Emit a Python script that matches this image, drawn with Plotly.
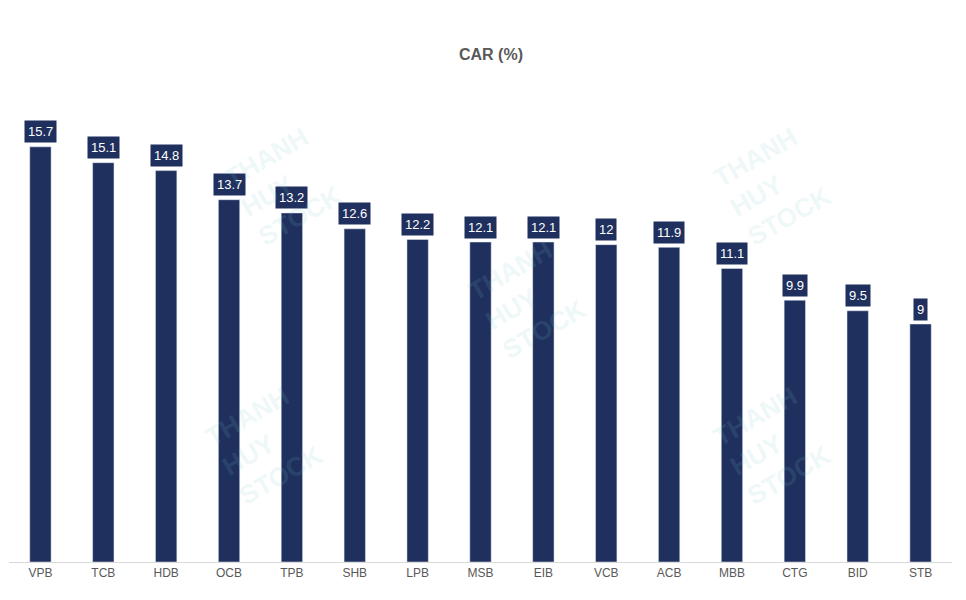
import plotly.graph_objects as go

banks = ['VPB', 'TCB', 'HDB', 'OCB', 'TPB', 'SHB', 'LPB', 'MSB', 'EIB', 'VCB', 'ACB', 'MBB', 'CTG', 'BID', 'STB']
car = [15.7, 15.1, 14.8, 13.7, 13.2, 12.6, 12.2, 12.1, 12.1, 12, 11.9, 11.1, 9.9, 9.5, 9]

navy = '#1f305e'

fig = go.Figure(go.Bar(x=banks, y=car, marker_color=navy, width=0.34))

# value labels in dark boxes above bars
for b, v in zip(banks, car):
    fig.add_annotation(x=b, y=v, text=str(v), showarrow=False, yshift=15,
                       bgcolor=navy, font=dict(color='white', size=13, family='Arial'),
                       borderpad=3)

# faint watermarks
for x, y in [(0.22, 0.93), (0.88, 0.93), (0.55, 0.55), (0.2, 0.1), (0.88, 0.1)]:
    fig.add_annotation(xref='paper', yref='paper', x=x, y=y, text='<b>THANH<br>HUY<br>STOCK</b>',
                       showarrow=False, textangle=-30, align='left',
                       font=dict(size=26, color='rgba(120,200,200,0.15)', family='Arial'))

fig.update_layout(
    width=966, height=600,
    title=dict(text='<b>CAR (%)</b>', x=0.5, y=0.922, yanchor='middle', xanchor='center',
               font=dict(size=16, color='#595959', family='Arial')),
    plot_bgcolor='white', paper_bgcolor='white',
    margin=dict(l=1, r=22, t=78, b=46),
    showlegend=False,
)
fig.update_xaxes(showline=True, linecolor='#d9d9d9', ticks='',
                 tickfont=dict(size=12, color='#595959', family='Arial'))
fig.update_yaxes(range=[0, 18], visible=False)

fig.write_html('out.html')
